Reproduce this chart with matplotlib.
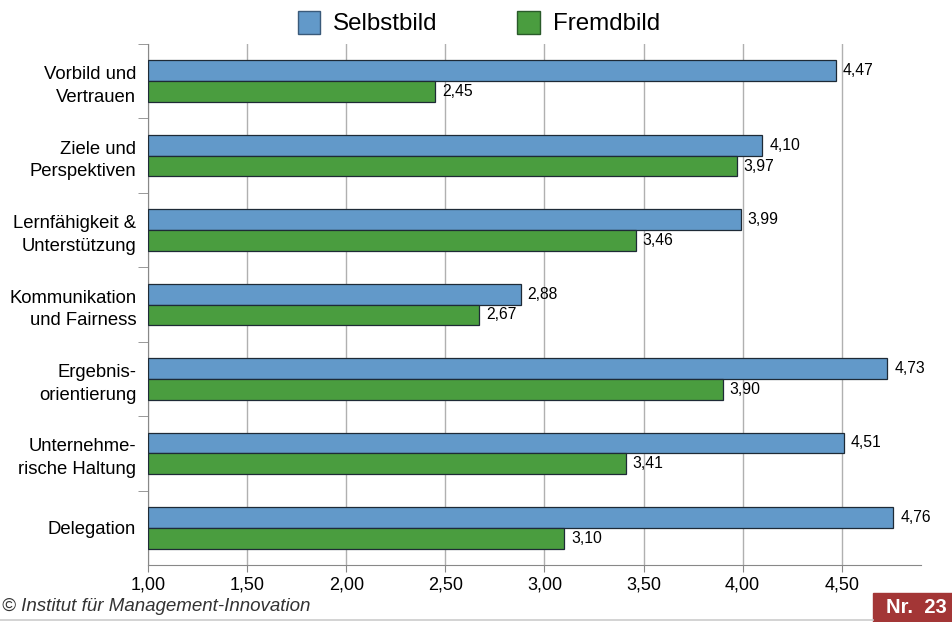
import matplotlib
matplotlib.use("Agg")
from matplotlib import pyplot as plt
from matplotlib.patches import Patch, Rectangle
from matplotlib.ticker import FixedLocator

plt.rcParams['font.family'] = ['Liberation Sans', 'DejaVu Sans']

# Kategorien von oben nach unten
kategorien = [
    "Vorbild und\nVertrauen",
    "Ziele und\nPerspektiven",
    "Lernfähigkeit &\nUnterstützung",
    "Kommunikation\nund Fairness",
    "Ergebnis-\norientierung",
    "Unternehme-\nrische Haltung",
    "Delegation",
]
selbstbild = [4.47, 4.10, 3.99, 2.88, 4.73, 4.51, 4.76]
fremdbild = [2.45, 3.97, 3.46, 2.67, 3.90, 3.41, 3.10]
x_ticks = [1.00, 1.50, 2.00, 2.50, 3.00, 3.50, 4.00, 4.50]

blau = "#6299C9"
gruen = "#4A9D3F"
kante = "#1E2A36"


def de(v):
    return f"{v:.2f}".replace(".", ",")


fig = plt.figure(figsize=(9.52, 6.22), dpi=100)
ax = fig.add_axes([0.1555, 0.0916, 0.812, 0.8377])

h = 0.28
pos = list(range(len(kategorien)))
for i in pos:
    s, f = selbstbild[i], fremdbild[i]
    ax.barh(i - h / 2, s - 1, left=1, height=h, color=blau, edgecolor=kante, linewidth=0.9, zorder=3)
    ax.barh(i + h / 2, f - 1, left=1, height=h, color=gruen, edgecolor=kante, linewidth=0.9, zorder=3)
    ax.text(s + 0.035, i - h / 2, de(s), va="center", ha="left", fontsize=11.3)
    ax.text(f + 0.035, i + h / 2, de(f), va="center", ha="left", fontsize=11.3)

ax.set_xlim(1, 4.9)
ax.set_ylim(len(kategorien) - 0.5, -0.5)

ax.set_xticks(x_ticks)
ax.set_xticklabels([de(t) for t in x_ticks], fontsize=13)
ax.tick_params(axis="x", length=5, color="#888888", pad=3)
ax.grid(axis="x", color="#B0B0B0", linewidth=1, zorder=0)

ax.set_yticks(pos)
ax.set_yticklabels(kategorien, fontsize=13.3, ha="right", multialignment="right", linespacing=1.45)
ax.tick_params(axis="y", which="major", length=0, pad=8.5)
ax.yaxis.set_minor_locator(FixedLocator([p + 0.5 for p in pos[:-1]] + [-0.5]))
ax.tick_params(axis="y", which="minor", length=7, color="#888888")

for side in ["top", "right"]:
    ax.spines[side].set_visible(False)
for side in ["left", "bottom"]:
    ax.spines[side].set_color("#888888")

# Legende oben
handles = [
    Patch(facecolor=blau, edgecolor="#3A5A7A", label="Selbstbild"),
    Patch(facecolor=gruen, edgecolor="#2A5A2A", label="Fremdbild"),
]
fig.legend(handles=handles, loc="center", bbox_to_anchor=(0.503, 0.963), ncol=2, frameon=False,
           fontsize=17.4, handlelength=0.92, handleheight=1.1, handletextpad=0.54, columnspacing=3.3)

# Fußzeile
fig.text(0.002, 0.025, "© Institut für Management-Innovation", style="italic", color="#333333",
         fontsize=13.5, va="center", ha="left")
fig.add_artist(plt.Line2D([0, 0.917], [0.003, 0.003], color="#CCCCCC", linewidth=1.2))
fig.add_artist(Rectangle((873 / 952, 0), 79 / 952, 29 / 622, color="#A33636", transform=fig.transFigure))
fig.text(0.994, 0.024, "Nr.  23", color="white", fontweight="bold", fontsize=14.5, va="center", ha="right")

fig.savefig("out.png", dpi=100)
